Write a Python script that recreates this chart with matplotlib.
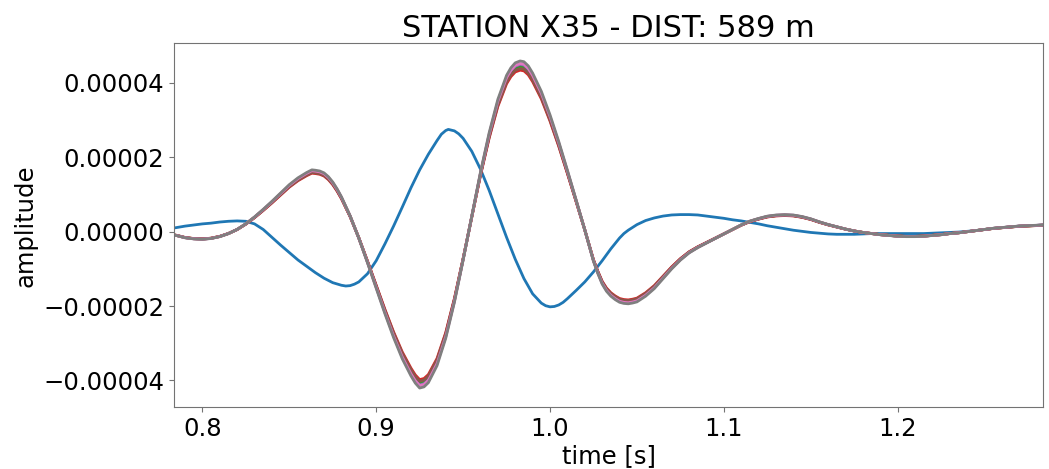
import numpy as np
import matplotlib
matplotlib.use("Agg")
import matplotlib.pyplot as plt

# sample times [s]: window edges plus a 5 ms grid
t_start, t_end = 0.7837, 1.2838
grid = np.round(np.arange(0.785, 1.2801, 0.005), 3)
time = np.concatenate([[t_start], grid, [t_end]])

amp_unit = 1e-5

# first trace (blue), in units of 1e-5
trace_ref = [
    0.10, 0.11, 0.15, 0.18, 0.21, 0.23, 0.26, 0.28, 0.29, 0.28,
    0.21, 0.06, -0.15, -0.36, -0.56, -0.76, -0.93, -1.10, -1.25, -1.37,
    -1.44, -1.45, -1.35, -1.13, -0.78, -0.33, 0.15, 0.66, 1.18, 1.66,
    2.08, 2.45, 2.72, 2.71, 2.51, 2.16, 1.68, 1.11, 0.48, -0.15,
    -0.74, -1.26, -1.67, -1.92, -2.02, -1.97, -1.80, -1.58, -1.35, -1.08,
    -0.78, -0.46, -0.17, 0.04, 0.19, 0.30, 0.37, 0.42, 0.45, 0.46,
    0.46, 0.45, 0.42, 0.39, 0.36, 0.32, 0.29, 0.25, 0.21, 0.16,
    0.12, 0.08, 0.04, 0.01, -0.02, -0.04, -0.06, -0.07, -0.07, -0.07,
    -0.06, -0.05, -0.05, -0.05, -0.05, -0.05, -0.05, -0.05, -0.04, -0.03,
    -0.02, -0.01, 0.01, 0.03, 0.06, 0.09, 0.11, 0.13, 0.15, 0.16,
    0.17, 0.18,
]
# extra samples read around the turning points of the blue trace
ref_extra_t = [0.8825, 0.8875, 0.9375, 0.9415, 0.9475, 0.9975, 1.0025, 1.0075, 1.0425]
ref_extra_y = [-1.46, -1.41, 2.62, 2.75, 2.63, -1.99, -2.01, -1.90, -0.05]

# the bundle of near-identical traces (centre of the band), units of 1e-5
trace_stack = [
    -0.09, -0.10, -0.16, -0.19, -0.20, -0.18, -0.13, -0.05, 0.06, 0.21,
    0.39, 0.59, 0.80, 1.02, 1.24, 1.42, 1.56, 1.62, 1.55, 1.31,
    0.92, 0.42, -0.17, -0.82, -1.49, -2.16, -2.79, -3.35, -3.80, -4.12,
    -3.98, -3.53, -2.81, -1.86, -0.75, 0.41, 1.57, 2.61, 3.49, 4.12,
    4.45, 4.48, 4.18, 3.70, 3.08, 2.38, 1.62, 0.84, 0.05, -0.78,
    -1.38, -1.70, -1.86, -1.90, -1.85, -1.70, -1.50, -1.24, -0.98, -0.75,
    -0.56, -0.42, -0.30, -0.18, -0.06, 0.06, 0.18, 0.28, 0.35, 0.41,
    0.44, 0.45, 0.44, 0.40, 0.34, 0.26, 0.19, 0.13, 0.07, 0.02,
    -0.02, -0.05, -0.08, -0.10, -0.12, -0.13, -0.13, -0.12, -0.10, -0.08,
    -0.05, -0.03, 0.00, 0.03, 0.06, 0.09, 0.11, 0.13, 0.15, 0.16,
    0.17, 0.18,
]
stack_extra_t = [0.8630, 0.8675, 0.8725, 0.8775, 0.9225, 0.9275, 0.9775, 0.9828,
                 0.9875, 1.0275, 1.0325, 1.0375, 1.0425, 1.0475]
stack_extra_y = [1.63, 1.60, 1.45, 1.13, -3.99, -4.09, 4.32, 4.50,
                 4.37, -1.10, -1.57, -1.79, -1.89, -1.88]

# per-trace amplitude of the bundle (orange, green, red, purple, brown, pink, grey)
stack_gains = [0.99, 0.985, 0.965, 1.0, 0.975, 1.005, 1.02]

title = "STATION X35 - DIST: 589 m"


def merged(t_main, y_main, t_more, y_more):
    t = np.concatenate([t_main, t_more])
    y = np.concatenate([y_main, y_more])
    order = np.argsort(t)
    return t[order], y[order]


t_ref, y_ref = merged(time, trace_ref, ref_extra_t, ref_extra_y)
t_stk, y_stk = merged(time, trace_stack, stack_extra_t, stack_extra_y)

fig = plt.figure(figsize=(10.49, 4.69), dpi=100)
ax = fig.add_axes([0.1659, 0.1316, 0.8287, 0.7761])

ax.plot(t_ref, y_ref * amp_unit, lw=2, solid_joinstyle='round')
for g in stack_gains:
    ax.plot(t_stk, y_stk * g * amp_unit, lw=2, solid_joinstyle='round')

ax.set_xlim(time[0], time[-1])
ax.set_ylim(-4.72e-5, 5.065e-5)
ax.set_yticks([-4e-5, -2e-5, 0, 2e-5, 4e-5])
ax.ticklabel_format(style='plain', axis='y', useOffset=False)

ax.set_title(title, fontsize=22, pad=4)
ax.set_xlabel("time [s]", fontsize=17.5, labelpad=2)
ax.set_ylabel("amplitude", fontsize=17.5)
ax.tick_params(labelsize=17.5, color='0.45')
for s in ax.spines.values():
    s.set_color('0.45')

fig.savefig("out.png", dpi=100)
